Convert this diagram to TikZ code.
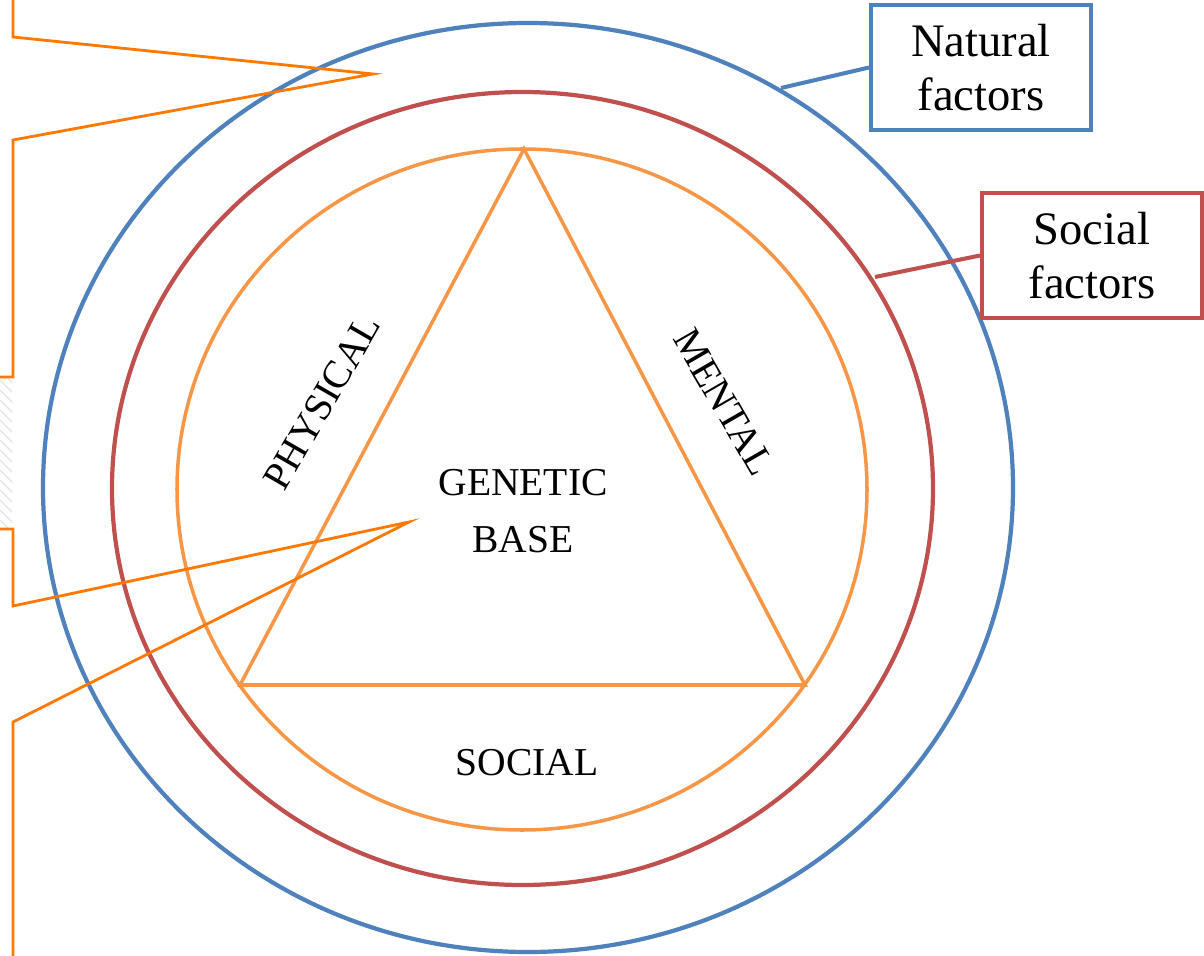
\documentclass[tikz,border=0pt]{standalone}
\usepackage{fontspec}
\setmainfont{Liberation Serif}
\definecolor{ink}{HTML}{000000}
\definecolor{nat}{HTML}{4F81BD}
\definecolor{soc}{HTML}{C0504D}
\definecolor{hlt}{HTML}{F79646}
\definecolor{cal}{HTML}{FF7800}
\definecolor{htc}{HTML}{E2E2E2}
\tikzset{
  ring/.style={line width=2.4pt},
  facbox/.style={draw,line width=2.3pt,fill=white,minimum width=4.4cm,minimum height=2.5cm,text width=4cm,align=center,inner sep=0pt,font=\fontsize{26.5}{31}\selectfont,text=ink},
  sidelab/.style={font=\fontsize{22.5}{32}\selectfont,inner sep=1pt,text=ink,align=center},
  tri/.style={draw=hlt,line width=2pt,line join=miter},
  callout/.style={draw=cal,line width=1.6pt,line join=miter},
  lead/.style={line width=2.3pt}
}

\begin{document}
\begin{tikzpicture}[x=0.02cm,y=-0.02cm]
\useasboundingbox (0,0) rectangle (1204,956);
% ===================== faint hatch at the left edge =====================
\begin{scope}
\clip (0,377) rectangle (12,529);
\foreach \k in {360,370,...,530}{\draw[htc,line width=0.8pt] (0,\k) -- ++(24,24);}
\end{scope}
% ===================== the three rings =====================
\draw[ring,nat] (528,487.5) ellipse [x radius=485,y radius=464.5];
\draw[ring,soc] (522.5,488.5) ellipse [x radius=410.5,y radius=396.5];
\draw[ring,hlt,line width=2pt] (522,489.5) ellipse [x radius=345,y radius=340.5];
% ===================== the triangle =====================
\coordinate (apex) at (524,149);
\coordinate (bl) at (240,685);
\coordinate (br) at (805,685);
\draw[tri] (apex) -- (br) -- (bl) -- cycle;
\node[sidelab] (genetic) at (523,511) {GENETIC\\BASE};
\node[sidelab] (social) at (527,763) {SOCIAL};
\node[sidelab,rotate=60] (physical) at (322,402) {PHYSICAL};
\node[sidelab,rotate=-60] (mental) at (724,402) {MENTAL};
% ===================== factor boxes =====================
\node[facbox,draw=nat] (natbox) at (981,67.5) {Natural\\factors};
\node[facbox,draw=soc] (socbox) at (1092,255.5) {Social\\factors};
\coordinate (natpt) at (781,88);
\coordinate (socpt) at (875,277);
\draw[lead,nat] (natbox.west) -- (natpt);
\draw[lead,soc] (socbox.west) -- (socpt);
% ===================== callouts cut by the left edge =====================
\coordinate (tipa) at (373,74);
\coordinate (tipb) at (409,522);
\draw[callout] (13,-10) -- (13,37) -- (tipa) -- (13,140) -- (13,377) -- (-10,377);
\draw[callout] (-10,529) -- (13,529) -- (13,606) -- (tipb) -- (13,722) -- (13,970);
\end{tikzpicture}
\end{document}
